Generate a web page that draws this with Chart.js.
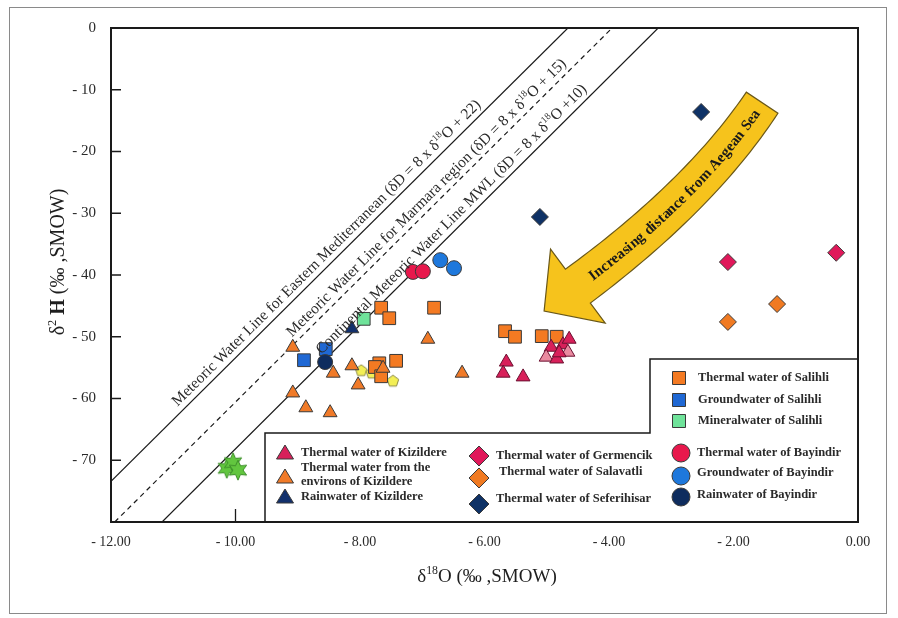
<!DOCTYPE html>
<html>
<head>
<meta charset="utf-8">
<script src="https://cdn.jsdelivr.net/npm/chart.js@4.4.0/dist/chart.umd.min.js"></script>
<style>
  html, body { margin: 0; padding: 0; background: #fff; }
  #wrap { position: relative; width: 898px; height: 618px; }
  #frame { position: absolute; left: 9px; top: 7px; width: 878px; height: 607px; border: 1px solid #8a8a8a; box-sizing: border-box; pointer-events: none; }
</style>
</head>
<body>
<div id="wrap">
  <canvas id="isoChart" width="898" height="618"></canvas>
  <div id="frame"></div>
</div>
<script>
// ---- data (d18O, d2H) ----
const xTicks = [-12, -10, -8, -6, -4, -2, 0];
const yTicks = [0, -10, -20, -30, -40, -50, -60, -70];

// meteoric water lines, ends taken where they meet the frame
const eastMedLine = [[-12, -73.4], [-4.66, 0]];
const marmaraLine = [[-11.94, -80], [-3.95, 0]];
const continentalLine = [[-11.18, -80], [-3.21, 0]];

const salihliThermal = [[-7.66, -45.3], [-7.53, -47.0], [-6.81, -45.3], [-7.69, -54.3], [-7.76, -54.9],
  [-7.66, -56.4], [-7.42, -53.9], [-5.67, -49.1], [-5.51, -50.0], [-5.08, -49.9], [-4.84, -50.0]];
const salihliGround = [[-8.90, -53.8], [-8.55, -52.0]];
const salihliMineral = [[-7.94, -47.1]];
const kizildereThermal = [[-5.65, -54.1], [-5.70, -55.9], [-5.38, -56.5], [-4.93, -51.7], [-4.74, -51.3],
  [-4.64, -50.4], [-5.01, -53.3], [-4.84, -53.6], [-4.66, -52.5], [-4.80, -52.6]];
const kizildereEnvirons = [[-9.08, -51.7], [-8.43, -55.9], [-8.13, -54.7], [-7.63, -55.1], [-8.03, -57.8],
  [-9.08, -59.1], [-8.87, -61.5], [-8.48, -62.3], [-6.91, -50.4], [-6.36, -55.9]];
const kizildereRain = [[-8.13, -48.7]];
const germencikThermal = [[-2.09, -37.9], [-0.35, -36.4]];
const salavatliThermal = [[-1.30, -44.7], [-2.09, -47.6]];
const seferihisarThermal = [[-2.52, -13.6], [-5.11, -30.6]];
const bayindirThermal = [[-7.15, -39.5], [-6.99, -39.4]];
const bayindirGround = [[-6.71, -37.6], [-6.49, -38.9]];
const bayindirRain = [[-8.56, -54.1]];
const yellowPentagons = [[-7.98, -55.5], [-7.81, -55.9], [-7.47, -57.2]];
const greenStars = [[-10.14, -71.3], [-10.04, -70.4], [-9.96, -71.6]];

// curved arrow centre line (tail, control, head base) in data units
const arrowPath = [[-1.54, -12.1], [-2.54, -27.2], [-4.50, -41.8]];

const SERIF = "'Liberation Serif', 'Times New Roman', serif";

function pts(arr) { return arr.map(p => ({ x: p[0], y: p[1] })); }

function makeShape(n, size, inner, fill, stroke) {
  const c = document.createElement('canvas');
  c.width = c.height = size;
  const g = c.getContext('2d');
  const r = size / 2 - 1;
  const steps = inner ? n * 2 : n;
  g.beginPath();
  for (let i = 0; i < steps; i++) {
    const a = -Math.PI / 2 + i * 2 * Math.PI / steps;
    const rr = inner && i % 2 ? r * inner : r;
    g.lineTo(size / 2 + rr * Math.cos(a), size / 2 + rr * Math.sin(a));
  }
  g.closePath();
  g.fillStyle = fill;
  g.fill();
  g.strokeStyle = stroke;
  g.lineWidth = 1;
  g.stroke();
  return c;
}

const starImg = makeShape(6, 22, 0.5, '#62c63f', '#3d8f2a');
const pentaImg = makeShape(5, 14, 0, '#f3ef55', '#8c8a45');

function scatterSet(label, data, style, color, radius, border) {
  return {
    type: 'scatter',
    label: label,
    data: pts(data),
    pointStyle: style,
    pointRadius: radius,
    backgroundColor: color,
    borderColor: border || '#3a3a3a',
    borderWidth: 1
  };
}

function lineSet(label, data, dash) {
  return {
    type: 'line',
    label: label,
    data: pts(data),
    borderColor: '#1a1a1a',
    borderWidth: 1.2,
    borderDash: dash || [],
    pointRadius: 0,
    fill: false,
    order: 100
  };
}

// ---- rich text helper (superscripts / bold parts) ----
function fontFor(p, size) {
  const s = p.sup ? size * 0.62 : size;
  return (p.bold ? 'bold ' : '') + s + 'px ' + SERIF;
}
function richWidth(ctx, parts, size) {
  let w = 0;
  parts.forEach(p => { ctx.font = fontFor(p, size); w += ctx.measureText(p.t).width; });
  return w;
}
function drawRich(ctx, parts, x, y, angle, size, align) {
  ctx.save();
  ctx.translate(x, y);
  ctx.rotate(angle);
  ctx.textBaseline = 'alphabetic';
  ctx.textAlign = 'left';
  let cx = align === 'center' ? -richWidth(ctx, parts, size) / 2 : 0;
  parts.forEach(p => {
    ctx.font = fontFor(p, size);
    ctx.fillText(p.t, cx, p.sup ? -size * 0.42 : 0);
    cx += ctx.measureText(p.t).width;
  });
  ctx.restore();
}

const lineLabels = [
  { line: eastMedLine, from: 0.155, parts: [{ t: 'Meteoric Water Line for Eastern Mediterranean (δD = 8 x δ' }, { t: '18', sup: true }, { t: 'O + 22)' }] },
  { line: marmaraLine, from: 0.365, parts: [{ t: 'Meteoric Water Line for Marmara region (δD = 8 x δ' }, { t: '18', sup: true }, { t: 'O + 15)' }] },
  { line: continentalLine, from: 0.33, parts: [{ t: 'Continental Meteoric Water Line MWL (δD = 8 x δ' }, { t: '18', sup: true }, { t: 'O +10)' }] }
];

// legend layout
const legendRight = [
  { label: ['Thermal water of Salihli'], shape: 'rect', color: '#f47a22', x: 679, y: 378 },
  { label: ['Groundwater of Salihli'], shape: 'rect', color: '#1f68d4', x: 679, y: 400 },
  { label: ['Mineralwater of Salihli'], shape: 'rect', color: '#6fe39a', x: 679, y: 421 }
];
const legendBottom = [
  { label: ['Thermal water of Kizildere'], shape: 'triangle', color: '#d8205a', x: 285, y: 453, tx: 301 },
  { label: ['Thermal water from the', 'environs of Kizildere'], shape: 'triangle', color: '#f07a28', x: 285, y: 477, tx: 301 },
  { label: ['Rainwater of Kizildere'], shape: 'triangle', color: '#12306c', x: 285, y: 497, tx: 301 },
  { label: ['Thermal water of Germencik'], shape: 'diamond', color: '#e0185a', x: 479, y: 456, tx: 496 },
  { label: ['Thermal water of Salavatli'], shape: 'diamond', color: '#f07a22', x: 479, y: 478, tx: 499, ty: 472 },
  { label: ['Thermal water of Seferihisar'], shape: 'diamond', color: '#0f3266', x: 479, y: 504, tx: 496, ty: 499 },
  { label: ['Thermal water of Bayindir'], shape: 'circle', color: '#e8184c', x: 681, y: 453, tx: 697 },
  { label: ['Groundwater of Bayindir'], shape: 'circle', color: '#1e78dc', x: 681, y: 476, tx: 697, ty: 473 },
  { label: ['Rainwater of Bayindir'], shape: 'circle', color: '#0e2c5e', x: 681, y: 497, tx: 697, ty: 495 }
];

function drawMarker(ctx, shape, x, y, color) {
  ctx.beginPath();
  if (shape === 'rect') {
    ctx.rect(x - 6.5, y - 6.5, 13, 13);
  } else if (shape === 'triangle') {
    ctx.moveTo(x, y - 8); ctx.lineTo(x + 8.5, y + 6); ctx.lineTo(x - 8.5, y + 6); ctx.closePath();
  } else if (shape === 'diamond') {
    ctx.moveTo(x, y - 10); ctx.lineTo(x + 10, y); ctx.lineTo(x, y + 10); ctx.lineTo(x - 10, y); ctx.closePath();
  } else {
    ctx.arc(x, y, 9, 0, Math.PI * 2);
  }
  ctx.fillStyle = color;
  ctx.fill();
  ctx.strokeStyle = '#3a3a3a';
  ctx.lineWidth = 1;
  ctx.stroke();
}

const figurePlugin = {
  id: 'figureExtras',
  beforeDatasetsDraw(chart) {
    const ctx = chart.ctx, xs = chart.scales.x, ys = chart.scales.y;
    const P = arrowPath.map(p => [xs.getPixelForValue(p[0]), ys.getPixelForValue(p[1])]);
    const bez = t => [
      (1 - t) * (1 - t) * P[0][0] + 2 * (1 - t) * t * P[1][0] + t * t * P[2][0],
      (1 - t) * (1 - t) * P[0][1] + 2 * (1 - t) * t * P[1][1] + t * t * P[2][1]
    ];
    const tan = t => {
      const dx = 2 * (1 - t) * (P[1][0] - P[0][0]) + 2 * t * (P[2][0] - P[1][0]);
      const dy = 2 * (1 - t) * (P[1][1] - P[0][1]) + 2 * t * (P[2][1] - P[1][1]);
      const l = Math.hypot(dx, dy);
      return [dx / l, dy / l];
    };
    const N = 40, half = 19;
    const left = [], right = [];
    for (let i = 0; i <= N; i++) {
      const t = i / N, b = bez(t), d = tan(t);
      const w = half + 2 * t;
      left.push([b[0] - d[1] * w, b[1] + d[0] * w]);
      right.push([b[0] + d[1] * w, b[1] - d[0] * w]);
    }
    const base = bez(1), d = tan(1);
    ctx.save();
    ctx.beginPath();
    left.forEach((p, i) => i ? ctx.lineTo(p[0], p[1]) : ctx.moveTo(p[0], p[1]));
    ctx.lineTo(base[0] - d[1] * 46, base[1] + d[0] * 46);
    ctx.lineTo(base[0] + d[0] * 42, base[1] + d[1] * 42);
    ctx.lineTo(base[0] + d[1] * 46, base[1] - d[0] * 46);
    for (let i = right.length - 1; i >= 0; i--) ctx.lineTo(right[i][0], right[i][1]);
    ctx.closePath();
    ctx.fillStyle = '#f6c31c';
    ctx.fill();
    ctx.strokeStyle = '#6a5818';
    ctx.lineWidth = 1.2;
    ctx.stroke();

    // text along the band, head end to tail
    const samples = [];
    let acc = 0, prev = bez(1);
    for (let i = 0; i <= 200; i++) {
      const t = 1 - i / 200, b = bez(t);
      acc += Math.hypot(b[0] - prev[0], b[1] - prev[1]);
      samples.push({ t: t, s: acc });
      prev = b;
    }
    const text = 'Increasing distance from Aegean Sea';
    ctx.font = 'bold 15px ' + SERIF;
    ctx.fillStyle = '#1a1a1a';
    ctx.textBaseline = 'middle';
    ctx.textAlign = 'left';
    const total = ctx.measureText(text).width;
    let s = (acc - total) / 2 + 2;
    for (const ch of text) {
      const w = ctx.measureText(ch).width;
      const target = s + w / 2;
      let k = samples.findIndex(q => q.s >= target);
      if (k < 0) k = samples.length - 1;
      const t = samples[k].t, b = bez(t), dd = tan(t);
      const ang = Math.atan2(-dd[1], -dd[0]);
      ctx.save();
      ctx.translate(b[0], b[1]);
      ctx.rotate(ang);
      ctx.fillText(ch, -w / 2, 1);
      ctx.restore();
      s += w;
    }
    ctx.restore();
  },
  afterDatasetsDraw(chart) {
    const ctx = chart.ctx, a = chart.chartArea, xs = chart.scales.x, ys = chart.scales.y;
    ctx.save();
    ctx.fillStyle = '#2a2a2a';

    // meteoric line captions
    lineLabels.forEach(l => {
      const p0 = [xs.getPixelForValue(l.line[0][0]), ys.getPixelForValue(l.line[0][1])];
      const p1 = [xs.getPixelForValue(l.line[1][0]), ys.getPixelForValue(l.line[1][1])];
      const len = Math.hypot(p1[0] - p0[0], p1[1] - p0[1]);
      const dx = (p1[0] - p0[0]) / len, dy = (p1[1] - p0[1]) / len;
      const off = 6;
      const sx = p0[0] + dx * len * l.from + dy * off;
      const sy = p0[1] + dy * len * l.from - dx * off;
      drawRich(ctx, l.parts, sx, sy, Math.atan2(dy, dx), 15.5, 'left');
    });

    // inward ticks
    ctx.strokeStyle = '#1a1a1a';
    ctx.lineWidth = 1.3;
    ctx.beginPath();
    yTicks.forEach(v => { const y = ys.getPixelForValue(v); ctx.moveTo(a.left, y); ctx.lineTo(a.left + 10, y); });
    xTicks.forEach(v => { const x = xs.getPixelForValue(v); ctx.moveTo(x, a.bottom); ctx.lineTo(x, a.bottom - 13); });
    ctx.stroke();

    // legend outline
    ctx.beginPath();
    ctx.moveTo(265, a.bottom);
    ctx.lineTo(265, 433);
    ctx.lineTo(650, 433);
    ctx.lineTo(650, 359);
    ctx.lineTo(a.right, 359);
    ctx.lineTo(a.right, a.bottom);
    ctx.closePath();
    ctx.fillStyle = '#fff';
    ctx.fill();
    ctx.lineWidth = 1.5;
    ctx.stroke();

    ctx.textBaseline = 'middle';
    ctx.textAlign = 'left';
    legendRight.forEach(e => {
      drawMarker(ctx, e.shape, e.x, e.y, e.color);
      ctx.fillStyle = '#2a2a2a';
      ctx.font = 'bold 12.5px ' + SERIF;
      ctx.fillText(e.label[0], 698, e.y);
    });
    legendBottom.forEach(e => {
      drawMarker(ctx, e.shape, e.x, e.y, e.color);
      ctx.fillStyle = '#2a2a2a';
      ctx.font = 'bold 12.5px ' + SERIF;
      if (e.label.length === 2) {
        ctx.fillText(e.label[0], e.tx, e.y - 9);
        ctx.fillText(e.label[1], e.tx, e.y + 5);
      } else {
        ctx.fillText(e.label[0], e.tx, e.ty || e.y);
      }
    });

    // plot frame
    ctx.strokeStyle = '#1a1a1a';
    ctx.lineWidth = 2;
    ctx.strokeRect(a.left, a.top, a.right - a.left, a.bottom - a.top);
    ctx.restore();
  },
  afterDraw(chart) {
    const ctx = chart.ctx, a = chart.chartArea;
    ctx.save();
    ctx.fillStyle = '#1e1e1e';
    drawRich(ctx, [{ t: 'δ' }, { t: '18', sup: true }, { t: 'O (‰ ,SMOW)', bold: false }],
      487, 582, 0, 19, 'center');
    drawRich(ctx, [{ t: 'δ' }, { t: '2', sup: true }, { t: ' ' }, { t: 'H', bold: true }, { t: ' (‰ ,SMOW)' }],
      64, 262, -Math.PI / 2, 20, 'center');
    ctx.restore();
  }
};

const kizColors = kizildereThermal.map((p, i) => (i === 6 || i === 8) ? '#ea8aa0' : '#d8205a');

new Chart(document.getElementById('isoChart'), {
  type: 'scatter',
  data: {
    datasets: [
      scatterSet('Thermal water of Bayindir', bayindirThermal, 'circle', '#e8184c', 7.5),
      scatterSet('Groundwater of Bayindir', bayindirGround, 'circle', '#1e78dc', 7.5),
      scatterSet('Rainwater of Bayindir', bayindirRain, 'circle', '#0e2c5e', 7.5),
      scatterSet('Thermal water of Germencik', germencikThermal, 'rectRot', '#e0185a', 8.5),
      scatterSet('Thermal water of Salavatli', salavatliThermal, 'rectRot', '#f07a22', 8.5),
      scatterSet('Thermal water of Seferihisar', seferihisarThermal, 'rectRot', '#0f3266', 8.5),
      scatterSet('Rainwater of Kizildere', kizildereRain, 'triangle', '#12306c', 8),
      Object.assign(scatterSet('Thermal water of Kizildere', kizildereThermal, 'triangle', '#d8205a', 8, '#6a1030'), { backgroundColor: kizColors }),
      scatterSet('Thermal water from the environs of Kizildere', kizildereEnvirons, 'triangle', '#f07a28', 8),
      scatterSet('Mineralwater of Salihli', salihliMineral, 'rect', '#6fe39a', 9),
      scatterSet('Groundwater of Salihli', salihliGround, 'rect', '#1f68d4', 9),
      scatterSet('Thermal water of Salihli', salihliThermal, 'rect', '#f47a22', 9),
      scatterSet('Yellow samples', yellowPentagons, pentaImg, '#f3ef55', 7),
      scatterSet('Green samples', greenStars, starImg, '#62c63f', 10),
      lineSet('Eastern Mediterranean MWL', eastMedLine),
      lineSet('Marmara MWL', marmaraLine, [5, 4]),
      lineSet('Continental MWL', continentalLine)
    ]
  },
  options: {
    responsive: false,
    animation: false,
    layout: { padding: { left: 0, right: 40, top: 28, bottom: 0 } },
    plugins: {
      legend: { display: false },
      tooltip: { enabled: false }
    },
    scales: {
      x: {
        type: 'linear',
        min: -12,
        max: 0,
        afterBuildTicks: s => { s.ticks = xTicks.map(v => ({ value: v })); },
        afterFit: s => { s.height = 96; },
        grid: { display: false, drawTicks: false },
        border: { display: false },
        ticks: {
          padding: 12,
          color: '#2a2a2a',
          font: { size: 14, family: SERIF },
          callback: v => v === 0 ? '0.00' : '- ' + Math.abs(v).toFixed(2)
        }
      },
      y: {
        type: 'linear',
        min: -80,
        max: 0,
        afterBuildTicks: s => { s.ticks = yTicks.map(v => ({ value: v })); },
        afterFit: s => { s.width = 111; },
        grid: { display: false, drawTicks: false },
        border: { display: false },
        ticks: {
          padding: 15,
          color: '#2a2a2a',
          font: { size: 15, family: SERIF },
          callback: v => v === 0 ? '0' : '- ' + Math.abs(v)
        }
      }
    }
  },
  plugins: [figurePlugin]
});
</script>
</body>
</html>
